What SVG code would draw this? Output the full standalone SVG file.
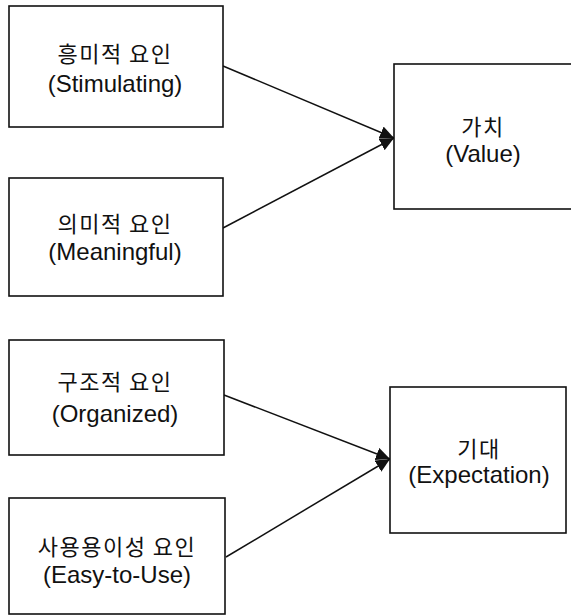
<svg xmlns="http://www.w3.org/2000/svg" width="571" height="616" viewBox="0 0 571 616">
<style>
.box{fill:#fff;stroke:#111;stroke-width:1.6}
.t{font-family:"Liberation Sans","Noto Sans CJK KR",Arial,sans-serif;font-size:24px;fill:#111;text-anchor:middle}
.k{font-family:"Noto Sans CJK KR","Liberation Sans",sans-serif;font-size:22px;fill:#111;text-anchor:middle;letter-spacing:1.5px}
.edge{stroke:#111;stroke-width:1.5;fill:none}
</style>
<defs>
<marker id="arr" markerUnits="userSpaceOnUse" markerWidth="16" markerHeight="14" refX="14" refY="6.5" orient="auto">
<path d="M0,0 L14,6.5 L0,13 z" fill="#111"/>
</marker>
</defs>
<rect width="571" height="616" fill="#fff"/>
<g id="connectors">
<line class="edge" x1="223" y1="66" x2="394" y2="138" marker-end="url(#arr)"/>
<line class="edge" x1="223" y1="228" x2="394" y2="138" marker-end="url(#arr)"/>
<line class="edge" x1="224" y1="395" x2="390" y2="459" marker-end="url(#arr)"/>
<line class="edge" x1="226" y1="557" x2="390" y2="459" marker-end="url(#arr)"/>
</g>
<g id="stimulating">
<rect class="box" x="9" y="6" width="214" height="121"/>
<text class="k" x="115" y="62">흥미적 요인</text>
<text class="t" x="115" y="92">(Stimulating)</text>
</g>
<g id="meaningful">
<rect class="box" x="9" y="178" width="214" height="118"/>
<text class="k" x="115" y="232">의미적 요인</text>
<text class="t" x="115" y="260">(Meaningful)</text>
</g>
<g id="value">
<rect class="box" x="394" y="64" width="185" height="145"/>
<text class="k" x="483" y="135">가치</text>
<text class="t" x="483" y="162">(Value)</text>
</g>
<g id="organized">
<rect class="box" x="9" y="340" width="215" height="115"/>
<text class="k" x="115" y="390">구조적 요인</text>
<text class="t" x="115" y="422">(Organized)</text>
</g>
<g id="easy">
<rect class="box" x="9" y="498" width="216" height="116"/>
<text class="k" x="117" y="555">사용용이성 요인</text>
<text class="t" x="117" y="583">(Easy-to-Use)</text>
</g>
<g id="expectation">
<rect class="box" x="390" y="387" width="176" height="146"/>
<text class="k" x="479" y="457">기대</text>
<text class="t" x="479" y="483">(Expectation)</text>
</g>
</svg>
